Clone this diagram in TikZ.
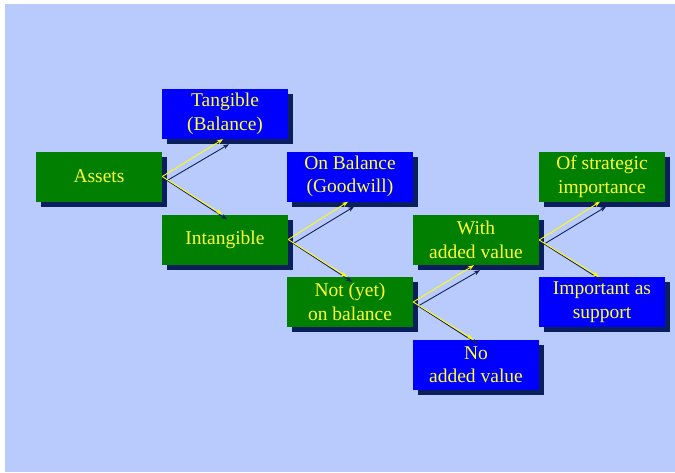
\documentclass[tikz,border=0pt]{standalone}
\usepackage{fontspec}
\setmainfont{Liberation Serif}
\usetikzlibrary{shadows,arrows.meta,calc}
\definecolor{bgblue}{HTML}{B9CBFC}
\definecolor{boxgreen}{HTML}{007F00}
\definecolor{boxblue}{HTML}{0000FF}
\definecolor{shadownavy}{HTML}{0A1F5C}
\definecolor{txtyellow}{HTML}{FFFF33}
\definecolor{arryellow}{HTML}{FFFF00}
\definecolor{arrnavy}{HTML}{15205A}
\tikzset{
  box/.style={minimum width=126pt, minimum height=50pt, inner sep=0pt,
    align=center, text=txtyellow,
    font=\fontsize{19.5}{23.5}\selectfont,
    drop shadow={shadow xshift=5pt, shadow yshift=-5pt, fill=shadownavy, opacity=1}},
  gbox/.style={box, fill=boxgreen},
  bbox/.style={box, fill=boxblue},
  yarr/.style={draw=arryellow, line width=0.9pt, -{Stealth[length=6pt,width=4.5pt]}},
  narr/.style={draw=arrnavy, line width=0.9pt, -{Stealth[length=6pt,width=4.5pt]}}
}
\begin{document}
\begin{tikzpicture}[x=1pt,y=-1pt]
\useasboundingbox (0,0) rectangle (675,472);
\fill[bgblue] (4.5,4) rectangle (675,472);
\node[gbox] (assets) at (99,176.5) {Assets};
\node[bbox] (tang) at (225,114) {Tangible\\(Balance)};
\node[gbox] (intang) at (225,239.5) {Intangible};
\node[bbox] (onbal) at (350,176.5) {On Balance\\(Goodwill)};
\node[gbox] (notyet) at (350,302) {Not (yet)\\on balance};
\node[gbox] (with) at (476,240) {With\\added value};
\node[bbox] (noval) at (476,364.5) {No\\added value};
\node[gbox] (strat) at (602,176.5) {Of strategic\\importance};
\node[bbox] (supp) at (602,302) {Important as\\support};
\foreach \s/\t in {assets/tang, intang/onbal, notyet/with, with/strat}{
  \draw[narr] ($(\s.east)+(5,4)$) -- ($(\t.south)+(4,5)$);
  \draw[yarr] (\s.east) -- ($(\t.south)+(-2,0)$);
}
\foreach \s/\t in {assets/intang, intang/notyet, notyet/noval, with/supp}{
  \draw[narr] ($(\s.east)+(5,4)$) -- ($(\t.north)+(2,5)$);
  \draw[yarr] (\s.east) -- ($(\t.north)+(-3,0)$);
}
\end{tikzpicture}
\end{document}
